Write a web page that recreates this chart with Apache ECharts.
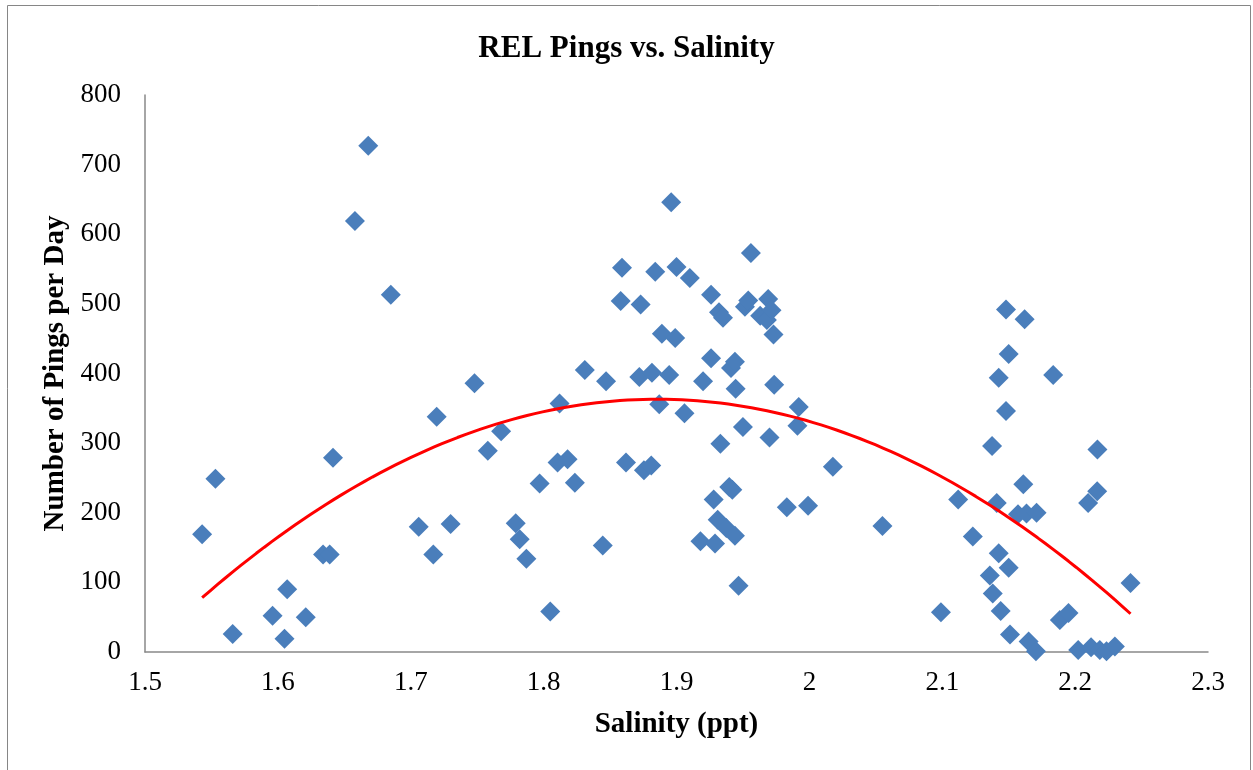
<!DOCTYPE html>
<html>
<head>
<meta charset="utf-8">
<script src="https://cdn.jsdelivr.net/npm/echarts@6/dist/echarts.min.js"></script>
<style>
html,body{margin:0;padding:0;background:#fff;}
#chart{width:1253px;height:770px;}
</style>
</head>
<body>
<div id="chart"></div>
<script>
// Salinity (ppt) values
const salinity = [
1.543,1.553,1.566,1.596,1.605,1.607,1.621,1.634,1.639,1.6415,
1.658,1.668,1.685,1.706,1.717,1.7195,1.730,1.748,1.758,1.768,
1.779,1.782,1.787,1.797,1.805,1.8105,1.812,1.818,1.8235,1.831,
1.8445,1.847,1.858,1.859,1.862,1.872,1.873,1.8755,1.881,1.8815,
1.884,1.887,1.889,1.8945,1.896,1.899,1.900,1.906,1.910,1.918,
1.920,1.926,1.926,1.928,1.929,1.931,1.932,1.933,1.935,1.9375,
1.9397,1.941,1.942,1.944,1.944,1.9445,1.9467,1.950,1.9515,1.954,
1.956,1.963,1.968,1.969,1.970,1.9715,1.973,1.9735,1.983,1.991,
1.992,1.999,2.0177,2.055,2.099,2.112,2.123,2.1358,2.1375,2.138,
2.141,2.1425,2.1425,2.144,2.148,2.148,2.150,2.150,2.151,2.157,
2.161,2.162,2.1634,2.165,2.1705,2.171,2.1835,2.1885,2.195,2.2023,
2.2098,2.212,2.2166,2.2168,2.2186,2.2236,2.2299,2.2417
];
// Number of pings per day
const pings = [
169,249,26,52,19,90,50,140,140,279,
619,727,513,180,140,338,184,386,289,317,
185,162,134,242,58,272,357,277,243,405,
153,389,504,552,272,395,499,261,268,401,
546,356,457,398,646,451,553,343,537,159,
389,513,422,219,156,190,488,299,480,178,
237,408,233,417,167,378,95,323,496,505,
573,483,477,507,308,491,456,384,208,325,
352,210,266,181,57,219,166,110,296,84,
214,394,142,59,492,346,428,121,25,198,
241,478,199,15,1,200,398,46,56,3,
214,7,231,291,3,1,8,99
];
// Polynomial (order 2) trendline:
// y = c0 + c1*(x - xRef) + c2*(x - xRef)^2
const trendRef = 1.9;
const trendCoef = [362.5, -70.08, -2429];
const xTicks = { min: 1.5, max: 2.3, step: 0.1 };
const yTicks = { min: 0, max: 800, step: 100 };
const chartTitle = 'REL Pings vs. Salinity';
const xTitle = 'Salinity (ppt)';
const yTitle = 'Number of Pings per Day';

const xMin = Math.min(...salinity), xMax = Math.max(...salinity);
const trend = [];
for (let i = 0; i <= 120; i++) {
  const x = xMin + (xMax - xMin) * i / 120;
  const u = x - trendRef;
  trend.push([x, trendCoef[0] + trendCoef[1]*u + trendCoef[2]*u*u]);
}

const points = salinity.map((x, i) => [x, pings[i]]);
const serif = '"Liberation Serif", "Times New Roman", serif';
const axisColor = '#898989';

const chart = echarts.init(document.getElementById('chart'), null, { renderer: 'canvas' });
chart.setOption({
  backgroundColor: '#fff',
  animation: false,
  title: {
    text: chartTitle,
    left: 'center',
    top: 28,
    textStyle: { fontFamily: serif, fontWeight: 'bold', fontSize: 31, color: '#000' }
  },
  graphic: [{
    type: 'rect',
    shape: { x: 7.5, y: 5.5, width: 1243, height: 775 },
    style: { fill: 'none', stroke: '#868686', lineWidth: 1 },
    silent: true
  }],
  grid: { left: 145, right: 45, top: 95, bottom: 118, containLabel: false },
  xAxis: {
    type: 'value',
    min: xTicks.min, max: xTicks.max, interval: xTicks.step,
    name: xTitle,
    nameLocation: 'middle',
    nameGap: 58,
    nameTextStyle: { fontFamily: serif, fontWeight: 'bold', fontSize: 29, color: '#000' },
    axisLine: { show: true, onZero: false, lineStyle: { color: axisColor, width: 1.5 } },
    axisTick: { show: false },
    splitLine: { show: false },
    axisLabel: {
      margin: 17,
      fontFamily: serif, fontSize: 27, color: '#000',
      formatter: v => String(parseFloat(v.toFixed(1)))
    }
  },
  yAxis: {
    type: 'value',
    min: yTicks.min, max: yTicks.max, interval: yTicks.step,
    name: yTitle,
    nameLocation: 'middle',
    nameGap: 67,
    nameTextStyle: { fontFamily: serif, fontWeight: 'bold', fontSize: 29, color: '#000' },
    axisLine: { show: true, lineStyle: { color: axisColor, width: 1.5 } },
    axisTick: { show: false },
    splitLine: { show: false },
    axisLabel: { margin: 24, fontFamily: serif, fontSize: 27, color: '#000' }
  },
  series: [
    {
      type: 'scatter',
      data: points,
      symbol: 'diamond',
      symbolSize: 20,
      itemStyle: { color: '#4A7EBB', opacity: 1 },
      z: 2
    },
    {
      type: 'line',
      data: trend,
      showSymbol: false,
      smooth: false,
      lineStyle: { color: '#FF0000', width: 3 },
      z: 3
    }
  ]
});
</script>
</body>
</html>
